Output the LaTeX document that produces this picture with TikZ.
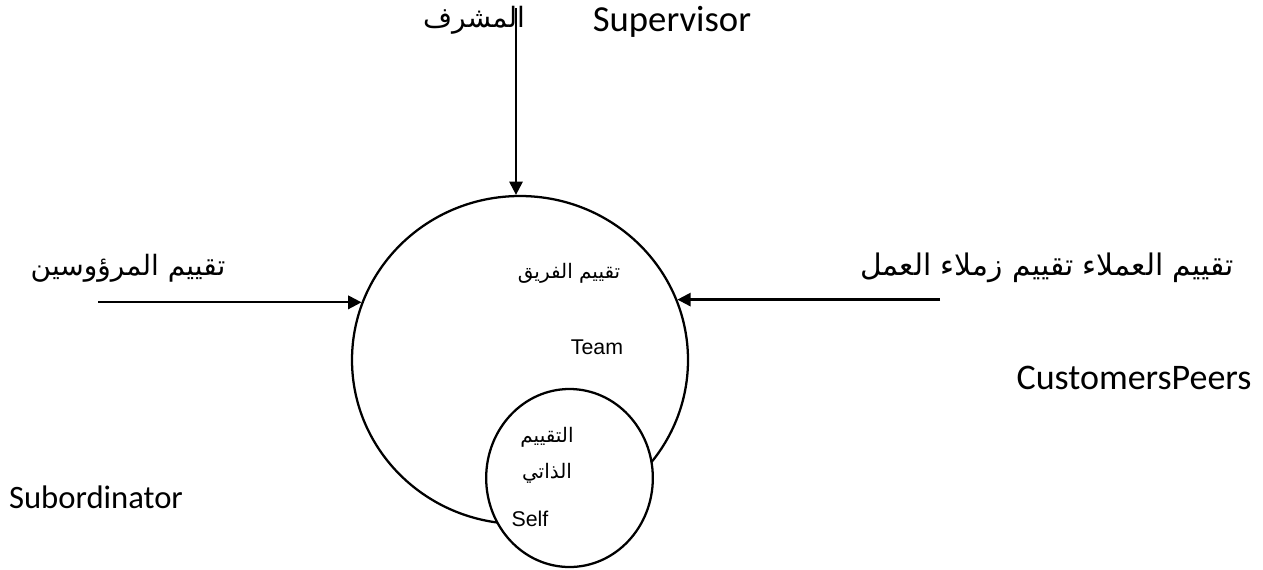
\documentclass[tikz,border=0pt]{standalone}
\usepackage{fontspec}
\TeXXeTstate=1
\setmainfont{Liberation Sans}
\newfontfamily\calfont{Carlito}
\newfontfamily\arabicfont[Script=Arabic]{DejaVu Sans}
\usetikzlibrary{arrows.meta,shapes.geometric}
\tikzset{
  ring/.style={draw, line width=1.7pt, ellipse, inner sep=0pt},
  feed/.style={line width=1.7pt, -{Triangle[length=10pt,width=10pt]}},
  latin/.style={font=\calfont\fontsize{27.5}{30}\selectfont, inner sep=0pt},
  arab/.style={font=\arabicfont\fontsize{21}{24}\selectfont, inner sep=0pt},
  inarab/.style={font=\arabicfont\fontsize{15}{18}\selectfont, inner sep=0pt},
  inlatin/.style={font=\fontsize{16}{19}\selectfont, inner sep=0pt}
}
\begin{document}
\begin{tikzpicture}[x=0.75pt,y=-0.75pt]
\useasboundingbox (0,0) rectangle (1263,569);
% outer team ring and inner self ring
\node[ring, minimum width=252pt, minimum height=246pt] (team) at (520,360) {};
\node[ring, fill=white, minimum width=125pt, minimum height=133.5pt] (self) at (569.5,478) {};

% labels
\node[arab] (supAr) at (474,20) {\beginR المشرف\endR};
\node[latin] (supEn) at (672,22) {Supervisor};
\node[arab] (subAr) at (128,268) {\beginR تقييم المرؤوسين\endR};
\node[latin, font=\calfont\fontsize{24.5}{28}\selectfont] (subEn) at (96,497) {Subordinator};
\node[arab, font=\arabicfont\fontsize{22.3}{26}\selectfont] (peerAr) at (1047,268) {\beginR تقييم العملاء تقييم زملاء العمل\endR};
\node[latin, font=\calfont\fontsize{27}{30}\selectfont] (peerEn) at (1134,378) {CustomersPeers};
\node[inarab] (teamAr) at (569,273) {\beginR تقييم الفريق\endR};
\node[inlatin] (teamEn) at (597,347) {Team};
\node[inarab] (selfAr1) at (547,437) {\beginR التقييم\endR};
\node[inarab] (selfAr2) at (547,473) {\beginR الذاتي\endR};
\node[inlatin] (selfEn) at (530,519) {Self};

% feeding arrows
\coordinate (supSrc) at (516,8);
\coordinate (subSrc) at (98,302);
\coordinate (peerSrc) at (940,302);
\draw[feed] (supSrc) -- (supSrc |- team.north);
\draw[feed] (subSrc |- team.160) -- (team.160);
\draw[feed] (peerSrc |- team.21) -- (team.21);
\end{tikzpicture}
\end{document}
